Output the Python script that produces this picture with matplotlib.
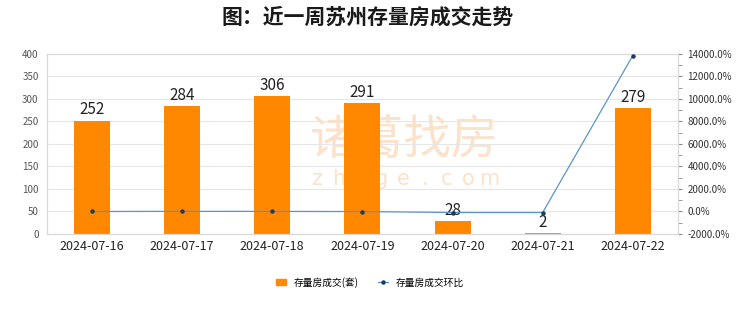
import matplotlib
matplotlib.use("Agg")
import matplotlib.pyplot as plt
from matplotlib.ticker import FuncFormatter, MultipleLocator
from matplotlib.lines import Line2D
from matplotlib.patches import Patch

plt.rcParams['font.family'] = ['Noto Sans CJK SC', 'DejaVu Sans']

dates = ["2024-07-16", "2024-07-17", "2024-07-18", "2024-07-19",
         "2024-07-20", "2024-07-21", "2024-07-22"]
deals = [252, 284, 306, 291, 28, 2, 279]
ratio = [0.0, 12.7, 7.7, -4.9, -90.4, -92.9, 13850.0]

bar_color = "#FF8800"
line_color = "#5B93CF"
wm_color = "#FBE2CB"

fig = plt.figure(figsize=(7.4, 3.12), dpi=100)
ax = fig.add_axes([0.0635, 0.25, 0.8525, 0.577])
x = list(range(len(dates)))
bars = ax.bar(x, deals, width=0.4, color=bar_color, zorder=2)
for xi, v in zip(x, deals):
    ax.text(xi, v + 5, str(v), ha='center', va='bottom', fontsize=11, color='#222222', zorder=5)

ax.set_ylim(0, 400)
ax.yaxis.set_major_locator(MultipleLocator(50))
ax.set_xlim(-0.5, len(dates) - 0.5)
ax.set_xticks(x)
ax.set_xticklabels(dates, fontsize=9, color='#222222')
ax.tick_params(axis='y', length=0, labelsize=7, labelcolor='#555555', pad=6)
ax.tick_params(axis='x', length=0, pad=4)
ax.grid(axis='y', color='#E6E6E6', linewidth=0.8, zorder=0)
for s in ax.spines.values():
    s.set_color('#D9D9D9')
    s.set_linewidth(0.8)

# watermark (behind bars)
ax.text(0.546, 0.55, "诸葛找房", transform=fig.transFigure, fontsize=34,
        color=wm_color, ha='center', va='center', zorder=1)
wm_letters = "zhuge.com"
for i, ch in enumerate(wm_letters):
    ax.text(0.428 + i * 0.0292, 0.425, ch, transform=fig.transFigure, fontsize=15,
            color=wm_color, ha='center', va='center', zorder=1,
            family='DejaVu Sans')

ax2 = ax.twinx()
ax2.plot(x, ratio, color=line_color, linewidth=0.9, marker='o', markersize=2.2,
         markerfacecolor='#1F3A5F', markeredgecolor='#1F3A5F', zorder=3)
ax2.set_ylim(-2000, 14000)
ax2.yaxis.set_major_locator(MultipleLocator(2000))
ax2.yaxis.set_minor_locator(MultipleLocator(1000))
ax2.yaxis.set_major_formatter(FuncFormatter(lambda v, p: f"{v:.1f}%"))
ax2.tick_params(axis='y', which='both', length=3, color='#888888', labelsize=7,
                labelcolor='#333333', pad=4)
for s in ax2.spines.values():
    s.set_color('#D9D9D9')
    s.set_linewidth(0.8)

fig.suptitle("图：近一周苏州存量房成交走势", x=0.497, y=0.98, fontsize=15,
             fontweight='bold', color='#1A1A1A')

handles = [Patch(facecolor=bar_color, edgecolor=bar_color),
           Line2D([0], [0], color=line_color, linewidth=0.9, marker='o', markersize=2.2,
                  markerfacecolor='#1F3A5F', markeredgecolor='#1F3A5F')]
leg = fig.legend(handles, ["存量房成交(套)", "存量房成交环比"], loc='center',
                 bbox_to_anchor=(0.5, 0.096), ncol=2, frameon=False, fontsize=7,
                 handlelength=1.0, handleheight=0.7, columnspacing=2.0, handletextpad=0.8)

fig.savefig("out.png", dpi=100)
